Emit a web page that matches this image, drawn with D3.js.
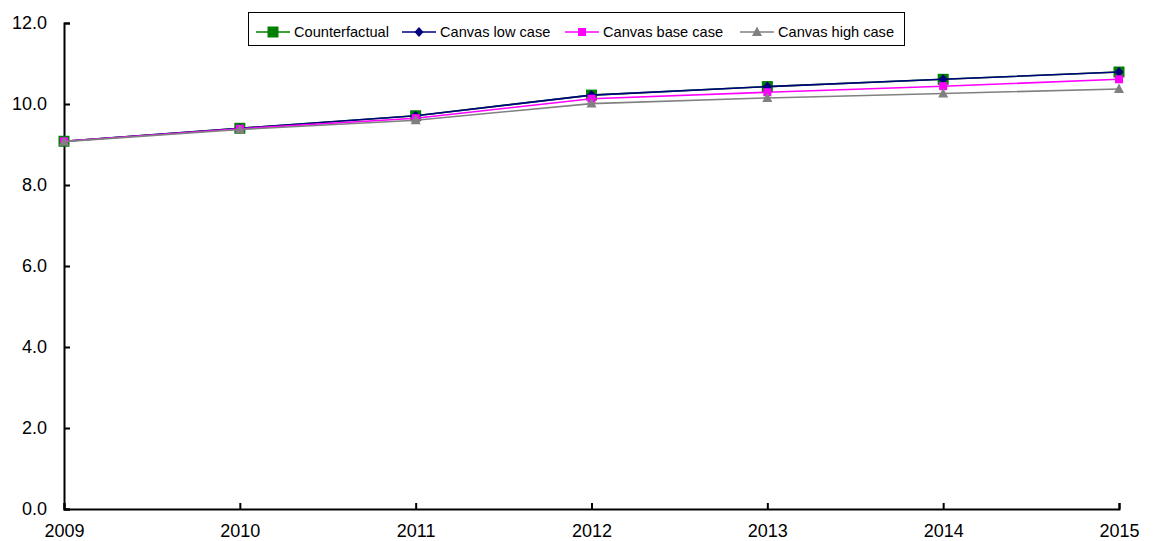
<!DOCTYPE html>
<html>
<head>
<meta charset="utf-8">
<script src="https://cdn.jsdelivr.net/npm/d3@7"></script>
<style>
  html, body { margin: 0; padding: 0; background: #fff; }
  svg { display: block; font-family: "Liberation Sans", Arial, sans-serif; }
</style>
</head>
<body>
<svg id="chart" width="1156" height="541"></svg>
<script>
// Years on the x axis
const years = [2009, 2010, 2011, 2012, 2013, 2014, 2015];

// Series values
const counterfactual = [9.08, 9.40, 9.71, 10.22, 10.43, 10.61, 10.79];
const canvasLow      = [9.08, 9.40, 9.71, 10.22, 10.43, 10.61, 10.79];
const canvasBase     = [9.08, 9.39, 9.65, 10.13, 10.29, 10.44, 10.61];
const canvasHigh     = [9.07, 9.37, 9.60, 10.01, 10.15, 10.26, 10.37];

// Tick values
const yTicks = [0, 2, 4, 6, 8, 10, 12];

const seriesNames = ["Counterfactual", "Canvas low case", "Canvas base case", "Canvas high case"];
const seriesValues = [counterfactual, canvasLow, canvasBase, canvasHigh];
const seriesColors = ["#008000", "#000080", "#ff00ff", "#808080"];
const seriesShapes = ["square", "diamond", "smallSquare", "triangle"];

const svg = d3.select("#chart");
const plotLeft = 64, plotRight = 1119, plotTop = 23, plotBottom = 509;

const x = d3.scaleLinear().domain([2009, 2015]).range([plotLeft, plotRight]);
const y = d3.scaleLinear().domain([0, 12]).range([plotBottom, plotTop]);

// Axes with inward ticks
const yAxis = d3.axisLeft(y).tickValues(yTicks).tickSize(-6).tickPadding(17)
  .tickFormat(d3.format(".1f"));
const xAxis = d3.axisBottom(x).tickValues(years).tickSize(-6).tickPadding(15)
  .tickFormat(d3.format("d"));

const gy = svg.append("g").attr("transform", `translate(${plotLeft},0)`).call(yAxis);
const gx = svg.append("g").attr("transform", `translate(0,${plotBottom})`).call(xAxis);
[gx, gy].forEach(g => {
  g.select(".domain").attr("stroke", "#000").attr("stroke-width", 2);
  g.selectAll(".tick line").attr("stroke", "#000").attr("stroke-width", 2);
  g.selectAll(".tick text").attr("fill", "#000").attr("font-size", 18)
    .attr("font-family", "Liberation Sans, Arial, sans-serif");
});

// Marker drawing
function drawMarker(g, shape, color, cx, cy) {
  if (shape === "square") {
    g.append("rect").attr("x", cx - 5.5).attr("y", cy - 5.5).attr("width", 11).attr("height", 11)
      .attr("fill", color);
  } else if (shape === "smallSquare") {
    g.append("rect").attr("x", cx - 4).attr("y", cy - 4).attr("width", 8).attr("height", 8)
      .attr("fill", color);
  } else if (shape === "diamond") {
    g.append("path").attr("d", `M${cx},${cy - 5}L${cx + 4.5},${cy}L${cx},${cy + 5}L${cx - 4.5},${cy}Z`)
      .attr("fill", color);
  } else if (shape === "triangle") {
    g.append("path").attr("d", `M${cx},${cy - 5.5}L${cx + 5},${cy + 4}L${cx - 5},${cy + 4}Z`)
      .attr("fill", color);
  }
}

const line = d3.line().x((d, i) => x(years[i])).y(d => y(d));

seriesValues.forEach((vals, s) => {
  const g = svg.append("g");
  g.append("path").datum(vals).attr("d", line)
    .attr("fill", "none").attr("stroke", seriesColors[s]).attr("stroke-width", 1.6);
  vals.forEach((v, i) => drawMarker(g, seriesShapes[s], seriesColors[s], x(years[i]), y(v)));
});

// Legend
const legend = svg.append("g");
legend.append("rect").attr("x", 248.5).attr("y", 12.5).attr("width", 656).attr("height", 33)
  .attr("fill", "#fff").attr("stroke", "#000").attr("stroke-width", 1);
const legendTextX = [294, 440, 603, 778];
seriesNames.forEach((name, s) => {
  const tx = legendTextX[s], lx = tx - 38, ly = 32;
  legend.append("line").attr("x1", lx).attr("x2", lx + 34).attr("y1", ly).attr("y2", ly)
    .attr("stroke", seriesColors[s]).attr("stroke-width", 1.6);
  drawMarker(legend, seriesShapes[s], seriesColors[s], lx + 17, ly);
  legend.append("text").attr("x", tx).attr("y", ly + 5).attr("font-size", 14.6)
    .attr("fill", "#000").text(name);
});
</script>
</body>
</html>
